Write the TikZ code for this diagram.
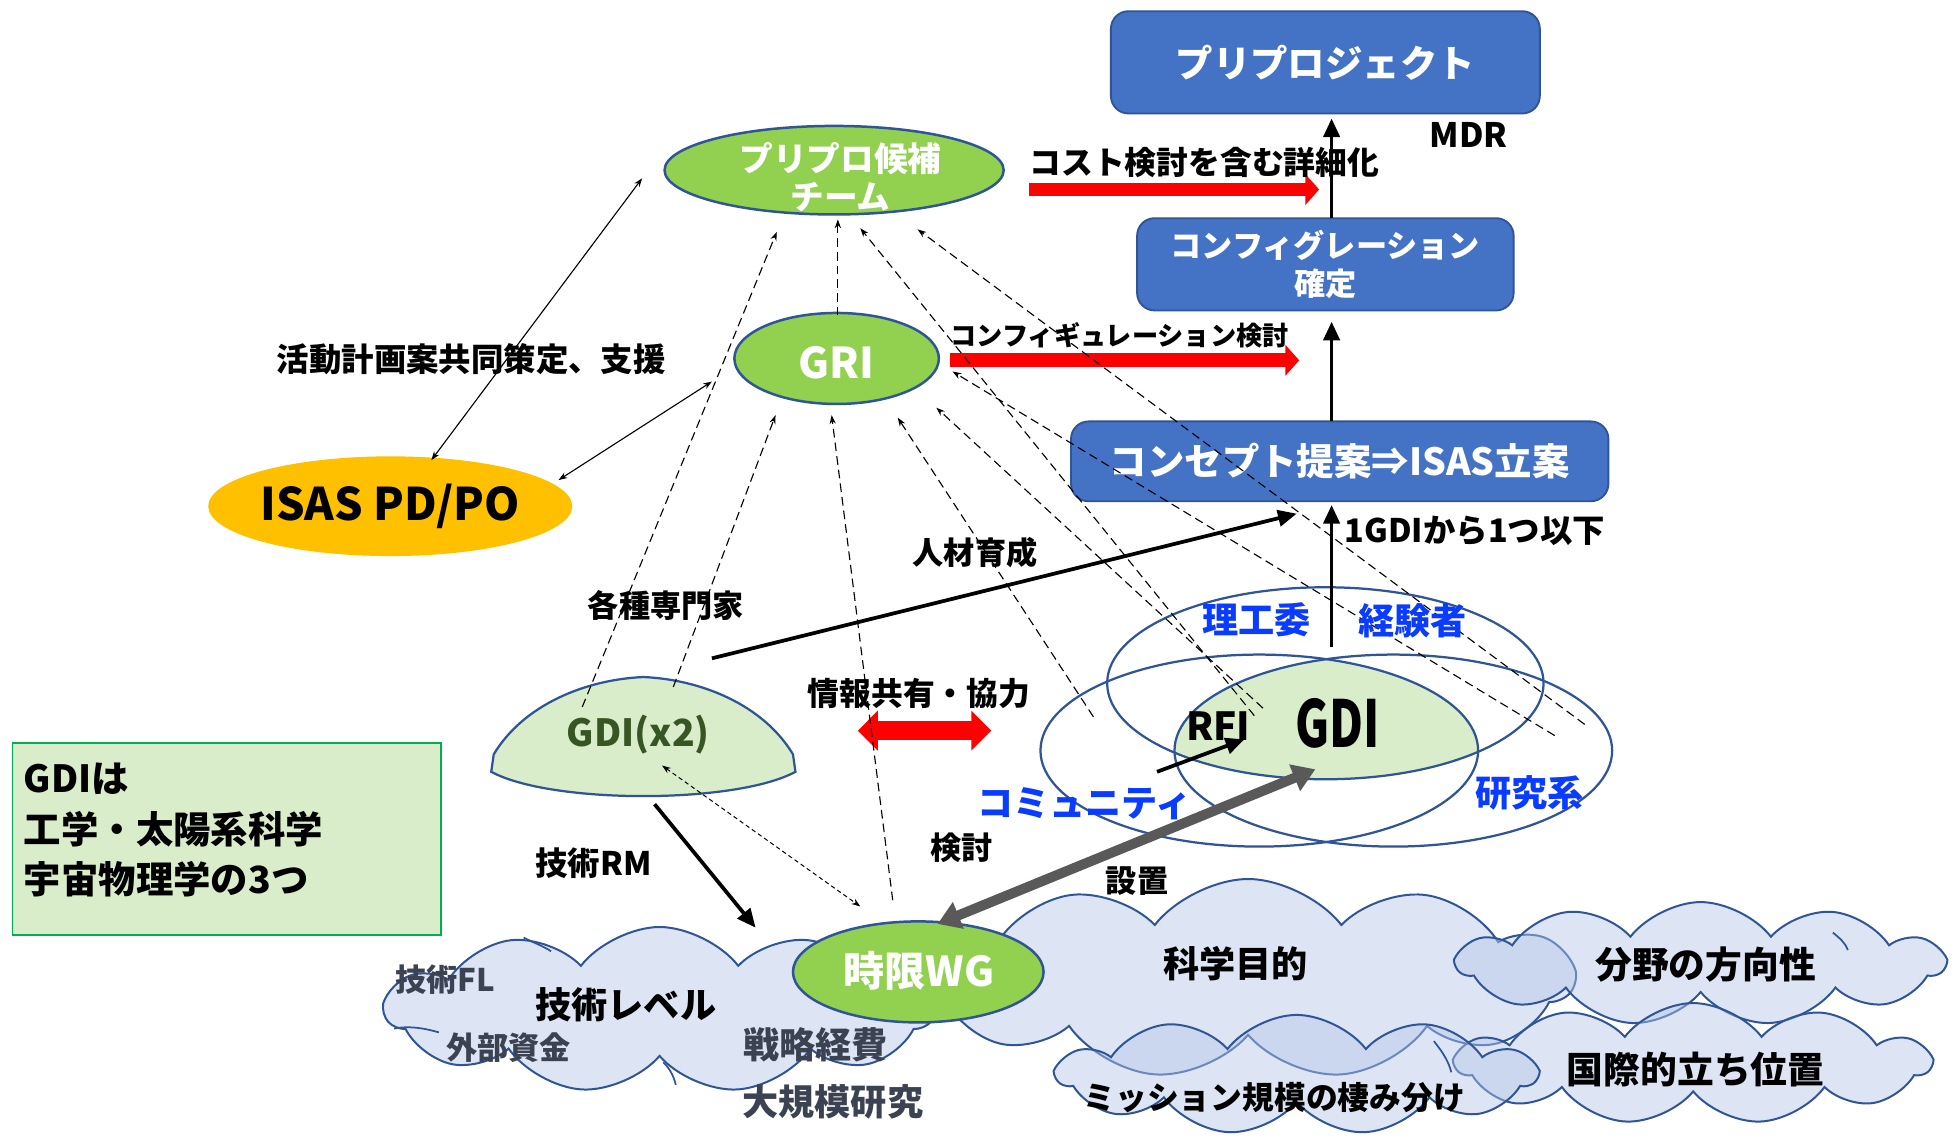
\documentclass[tikz,border=0pt]{standalone}
\usepackage{fontspec}
\usepackage{graphicx}
\setmainfont{Noto Sans CJK JP}
\usetikzlibrary{arrows.meta,shapes.geometric,shapes.symbols}
\newcommand\fsz[2]{\fontsize{#1}{#2}\selectfont}
\definecolor{boxblue}{HTML}{4472C4}
\definecolor{bdark}{HTML}{2F5597}
\definecolor{lgreen}{HTML}{92D050}
\definecolor{pgreen}{HTML}{DAEDCB}
\definecolor{orng}{HTML}{FFC000}
\definecolor{vblue}{HTML}{0A3CFF}
\definecolor{gdk}{HTML}{375623}
\definecolor{notegreen}{HTML}{00B050}
\definecolor{notefill}{HTML}{DAEDCB}
\definecolor{gbar}{HTML}{595959}
\definecolor{cloudc}{HTML}{B4C7E7}
\definecolor{slate}{HTML}{3B4252}
\begin{document}
\begin{tikzpicture}[x=1pt,y=-1pt,
  bluebox/.style={draw=bdark, line width=1.5, fill=boxblue, rounded corners=14, text=white, align=center, inner sep=0},
  greenell/.style={ellipse, draw=bdark, line width=2, fill=lgreen, inner sep=0},
  lbl/.style={inner sep=0, align=center},
  thinarr/.style={line width=0.9, {Stealth[length=7,width=5]}-{Stealth[length=7,width=5]}},
  dasharr/.style={line width=0.9, dash pattern=on 7pt off 4pt, -{Stealth[length=7,width=5]}},
  finedash/.style={line width=0.8, dash pattern=on 3.5pt off 2.5pt, {Stealth[length=7,width=5]}-{Stealth[length=7,width=5]}},
  blackarr/.style={line width=3, -{Triangle[length=15,width=13]}},
  redarr/.style={draw=red, line width=11, -{Triangle[length=11,width=24]}},
  cloudn/.style={cloud, cloud ignores aspect, cloud puff arc=105, draw=bdark, line width=1.6, fill=cloudc, fill opacity=0.45, draw opacity=1, inner sep=0},
  vennell/.style={draw=bdark, line width=1.8}
]
\useasboundingbox (0,0) rectangle (1568,913);
\fill[white] (0,0) rectangle (1568,913);

% ---------- clouds ----------
\node[cloudn, cloud puffs=11, minimum width=522, minimum height=160] (cl2) at (1001,785) {};
\node[cloudn, cloud puffs=11, minimum width=440, minimum height=133] (cl1) at (529,810) {};
\node[cloudn, cloud puffs=11, minimum width=390, minimum height=99] (cl3) at (1364,773) {};
\node[cloudn, cloud puffs=11, minimum width=380, minimum height=97] (cl4) at (1358,853) {};
\node[cloudn, cloud puffs=11, minimum width=384, minimum height=96] (cl5) at (1040,862) {};
% inner strokes of the clouds
\draw[draw=bdark, line width=1.4] (316,825) .. controls (330,822) and (345,826) .. (352,828);
\draw[draw=bdark, line width=1.4] (420,752) .. controls (428,756) and (436,759) .. (442,763);
\draw[draw=bdark, line width=1.4] (542,870) .. controls (540,862) and (537,857) .. (532,852);
\draw[draw=bdark, line width=1.4] (1150,835) .. controls (1158,845) and (1162,852) .. (1164,860);
\draw[draw=bdark, line width=1.4] (1470,748) .. controls (1475,752) and (1480,756) .. (1482,762);

% ---------- note box ----------
\node[draw=notegreen, line width=1.5, fill=notefill, minimum width=344, minimum height=154, inner sep=0] (note) at (182,673) {};
\node[lbl, align=left, anchor=west, font=\bfseries\fsz{30}{40.5}] (notet) at (19,666) {GDIは\\工学・太陽系科学\\宇宙物理学の3つ};

% ---------- Venn ----------
\begin{scope}
  \clip (1010,602) ellipse [x radius=175.5, y radius=77];
  \clip (1117.5,602) ellipse [x radius=175.5, y radius=77];
  \fill[pgreen] (1063,548) ellipse [x radius=175, y radius=77];
\end{scope}
\draw[vennell] (1063,548) ellipse [x radius=175, y radius=77];
\draw[vennell] (1010,602) ellipse [x radius=175.5, y radius=77];
\draw[vennell] (1117.5,602) ellipse [x radius=175.5, y radius=77];

% ---------- boxes ----------
\node[bluebox, minimum width=344, minimum height=82, font=\bfseries\fsz{30}{36}] (pp) at (1063,50) {プリプロジェクト};
\node[bluebox, minimum width=302, minimum height=74, font=\bfseries\fsz{25}{31}] (cf) at (1063,212) {コンフィグレーション\\確定};
\node[bluebox, minimum width=431, minimum height=64, font=\bfseries\fsz{30}{36}] (cp) at (1074.5,370) {コンセプト提案⇒ISAS立案};

% ---------- ellipses ----------
\node[greenell, minimum width=272, minimum height=71] (team) at (669,136.5) {};
\node[greenell, minimum width=164, minimum height=73] (gri) at (671,287.5) {};
\node[ellipse, fill=orng, minimum width=292, minimum height=80, inner sep=0] (isas) at (313,406) {};
\node[greenell, minimum width=201, minimum height=81] (wg) at (736.5,779.5) {};

% GDI(x2) shape
\draw[draw=bdark, line width=1.8, fill=pgreen]
  (394,619) -- (396,605) .. controls (420,565) and (470,545) .. (516,543)
  .. controls (562,545) and (612,565) .. (636,605) -- (638,619)
  .. controls (590,645) and (442,645) .. (394,619) -- cycle;

% ---------- coordinates ----------
\coordinate (ra0) at (825,152); \coordinate (ra1) at (1058,152);
\coordinate (rb0) at (762,289); \coordinate (rb1) at (1042,289);
\coordinate (rc0) at (688,586); \coordinate (rc1) at (795,586);
\coordinate (va0) at (1068,519); \coordinate (va1) at (1068,405);
\coordinate (vb0) at (1068,338); \coordinate (vb1) at (1068,258);
\coordinate (vc0) at (1068,175); \coordinate (vc1) at (1068,95);
\coordinate (hr0) at (571,528); \coordinate (hr1) at (1040,412);
\coordinate (rm0) at (525,645); \coordinate (rm1) at (606,744);
\coordinate (rf0) at (928,619); \coordinate (rf1) at (998,593);
\coordinate (gy0) at (752,741); \coordinate (gy1) at (1055,617);
\coordinate (ia0) at (346,369); \coordinate (ia1) at (515,143);
\coordinate (ib0) at (448,385); \coordinate (ib1) at (571,306);
\coordinate (da0) at (467,567); \coordinate (da1) at (623,186);
\coordinate (db0) at (672,253); \coordinate (db1) at (672,176);
\coordinate (dc0) at (1006,574); \coordinate (dc1) at (690,183);
\coordinate (dd0) at (1271,581); \coordinate (dd1) at (736,184);
\coordinate (de0) at (540,551); \coordinate (de1) at (622,333);
\coordinate (df0) at (716,722); \coordinate (df1) at (667,333);
\coordinate (dg0) at (877,575); \coordinate (dg1) at (720,335);
\coordinate (dh0) at (1013,568); \coordinate (dh1) at (751,327);
\coordinate (di0) at (1247,590); \coordinate (di1) at (764,298);
\coordinate (fk0) at (531,614); \coordinate (fk1) at (690,727);

% ---------- red arrows ----------
\draw[redarr] (ra0) -- (ra1);
\draw[redarr] (rb0) -- (rb1);
\draw[draw=red, line width=15, {Triangle[length=16,width=31]}-{Triangle[length=16,width=31]}] (rc0) -- (rc1);

% ---------- black arrows ----------
\draw[blackarr] (va0) -- (va1);
\draw[blackarr] (vb0) -- (vb1);
\draw[blackarr] (vc0) -- (vc1);
\draw[blackarr] (hr0) -- (hr1);
\draw[blackarr] (rm0) -- (rm1);
\draw[blackarr] (rf0) -- (rf1);
\draw[gbar, line width=8, {Triangle[length=18,width=22]}-{Triangle[length=18,width=22]}] (gy0) -- (gy1);

% ---------- thin arrows ----------
\draw[thinarr] (ia0) -- (ia1);
\draw[thinarr] (ib0) -- (ib1);
\draw[dasharr] (da0) -- (da1);
\draw[dasharr] (db0) -- (db1);
\draw[dasharr] (dc0) -- (dc1);
\draw[dasharr] (dd0) -- (dd1);
\draw[dasharr] (de0) -- (de1);
\draw[dasharr] (df0) -- (df1);
\draw[dasharr] (dg0) -- (dg1);
\draw[dasharr] (dh0) -- (dh1);
\draw[dasharr] (di0) -- (di1);
\draw[finedash] (fk0) -- (fk1);

% ---------- labels ----------
\node[lbl, text=white, font=\bfseries\fsz{27}{31}] (teamt) at (674,142) {プリプロ候補\\チーム};
\node[lbl, text=white, font=\bfseries\fsz{34}{40}] (grit) at (671,291) {GRI};
\node[lbl, font=\bfseries\fsz{36}{40}] (isast) at (313,406) {ISAS PD/PO};
\node[lbl, text=white, font=\bfseries\fsz{33}{38}] (wgt) at (737,779) {時限WG};
\node[lbl, font=\bfseries\fsz{27}{32}] (mdr) at (1178,108) {MDR};
\node[lbl, font=\bfseries\fsz{25.5}{30}] (cost) at (966,130) {コスト検討を含む詳細化};
\node[lbl, font=\bfseries\fsz{21}{25}] (cfk) at (898,269) {コンフィギュレーション検討};
\node[lbl, font=\bfseries\fsz{26}{30}] (one) at (1183,426) {1GDIから1つ以下};
\node[lbl, font=\bfseries\fsz{26}{32}] (plan) at (378,288) {活動計画案共同策定、支援};
\node[lbl, font=\bfseries\fsz{25}{30}] (expert) at (534,486) {各種専門家};
\node[lbl, font=\bfseries\fsz{25}{30}] (hr) at (782,443) {人材育成};
\node[lbl, font=\bfseries\fsz{25.5}{30}] (info) at (737,556) {情報共有・協力};
\node[lbl, font=\bfseries\fsz{26}{30}] (rm) at (476,692) {技術RM};
\node[lbl, font=\bfseries\fsz{25}{30}] (kento) at (771,680) {検討};
\node[lbl, font=\bfseries\fsz{25}{30}] (setchi) at (912,707) {設置};
\node[lbl, text=gdk, font=\bfseries\fsz{30}{36}] (gdi2) at (512,589) {GDI(x2)};
\node[lbl, text=vblue, font=\bfseries\fsz{29}{34}] (riko) at (1008,497) {理工委};
\node[lbl, text=vblue, font=\bfseries\fsz{29}{34}] (keiken) at (1133,498) {経験者};
\node[lbl, text=vblue, font=\bfseries\fsz{29}{34}] (comm) at (870,645) {コミュニティ};
\node[lbl, text=vblue, font=\bfseries\fsz{29}{34}] (kenkyu) at (1227,636) {研究系};
\node[lbl, font=\bfseries\fsz{31}{36}] (rfi) at (977,582) {RFI};
\node[lbl, font=\bfseries\fsz{52}{60}] (gdi) at (1073,580) {\scalebox{0.72}[1]{GDI}};
\node[lbl, text=slate, font=\bfseries\fsz{25}{30}] (tfl) at (357,786) {技術FL};
\node[lbl, font=\bfseries\fsz{29}{34}] (tlevel) at (502,806) {技術レベル};
\node[lbl, text=slate, font=\bfseries\fsz{25}{30}] (gaibu) at (408,840) {外部資金};
\node[lbl, text=slate, font=\bfseries\fsz{29}{34}] (senryaku) at (654,838) {戦略経費};
\node[lbl, text=slate, font=\bfseries\fsz{29}{34}] (daikibo) at (668,884) {大規模研究};
\node[lbl, font=\bfseries\fsz{29}{34}] (kagaku) at (991,773) {科学目的};
\node[lbl, font=\bfseries\fsz{29.5}{34}] (bunya) at (1368,774) {分野の方向性};
\node[lbl, font=\bfseries\fsz{29.5}{34}] (kokusai) at (1360,858) {国際的立ち位置};
\node[lbl, font=\bfseries\fsz{25.5}{30}] (mission) at (1022,880) {ミッション規模の棲み分け};
\end{tikzpicture}
\end{document}
